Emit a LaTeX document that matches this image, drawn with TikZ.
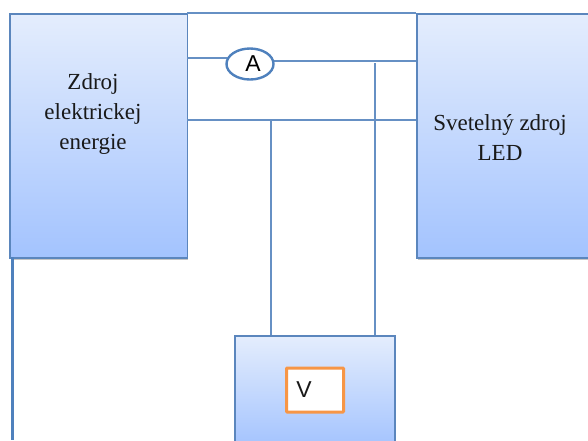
\documentclass[tikz,border=0pt]{standalone}
\usepackage{fontspec}
\setmainfont{Liberation Serif}
\newfontfamily\metersans{Liberation Sans}
\usetikzlibrary{shadows,calc,shapes.geometric}
\definecolor{wireblue}{HTML}{6690C4}
\definecolor{edgeblue}{HTML}{5B86BD}
\definecolor{topfill}{HTML}{E4EDFD}
\definecolor{botfill}{HTML}{A3C3FE}
\definecolor{orangeedge}{HTML}{F79646}
\definecolor{ellipseedge}{HTML}{4F81BD}
\tikzset{
  x=1pt,y=-1pt,
  wire/.style={draw=wireblue,line width=1.8pt},
  powerwire/.style={draw=ellipseedge,line width=2.6pt},
  blockbox/.style={draw=edgeblue,line width=1.8pt,top color=topfill,bottom color=botfill,
    inner sep=0pt,anchor=north west,
    drop shadow={shadow xshift=1pt,shadow yshift=-2pt,fill=black!50,opacity=.45}},
  blocktext/.style={font=\fontsize{23}{30}\selectfont,align=center,text=black!90,inner sep=0pt},
  meterA/.style={ellipse,draw=ellipseedge,line width=2.4pt,fill=white,minimum width=47pt,minimum height=31pt,inner sep=0pt,font=\metersans\fontsize{23}{26}\selectfont},
  meterV/.style={draw=orangeedge,line width=3pt,fill=white,rounded corners=.8pt,minimum width=57pt,minimum height=44pt,inner sep=0pt,anchor=north west},
}
\begin{document}
\begin{tikzpicture}
\useasboundingbox (0,0) rectangle (588,440);
\clip (0,0) rectangle (588,440);
\fill[white] (0,0) rectangle (588,440);
% blocks
\node[blockbox,minimum width=177.5pt,minimum height=244pt] (src) at (9,13) {};
\node[blockbox,minimum width=184pt,minimum height=244pt] (led) at (416,13) {};
\node[blockbox,minimum width=160pt,minimum height=112pt] (vbox) at (234,335) {};
% anchor points
\coordinate (srcA) at (187,58);
\coordinate (ampL) at (226.5,58);
\coordinate (ampR) at (273.5,61);
\coordinate (ledA) at (416,61);
\coordinate (srcB) at (187,120);
\coordinate (ledB) at (416,120);
\coordinate (tapL) at (271,120);
\coordinate (tapR) at (375,63);
\coordinate (vL) at (271,335);
\coordinate (vR) at (375,335);
\coordinate (srcT) at (187,13);
\coordinate (ledT) at (416,13);
\coordinate (srcBot) at (12.5,257);
\coordinate (pageBot) at (12.5,440);
% wires
\draw[wire,line width=2.2pt] (srcT) -- (ledT);
\draw[wire] (srcA) -- (ampL);
\draw[wire] (ampR) -- (ledA);
\draw[wire] (srcB) -- (ledB);
\draw[wire] (tapL) -- (vL);
\draw[wire] (tapR) -- (vR);
\draw[powerwire] (srcBot) -- (pageBot);
% meters
\node[meterA] (amp) at (250,64) {\hspace{6pt}A};
\node[meterV] (vm) at (285,366.5) {};
\node[font=\metersans\fontsize{23}{26}\selectfont,text=black!90] (vlabel) at (304,390) {V};
% block texts
\node[blocktext] (srctext) at (93,114) {Zdroj\\elektrickej\\energie};
\node[blocktext] (ledtext) at (500,138) {Svetelný zdroj\\LED};
\end{tikzpicture}
\end{document}
